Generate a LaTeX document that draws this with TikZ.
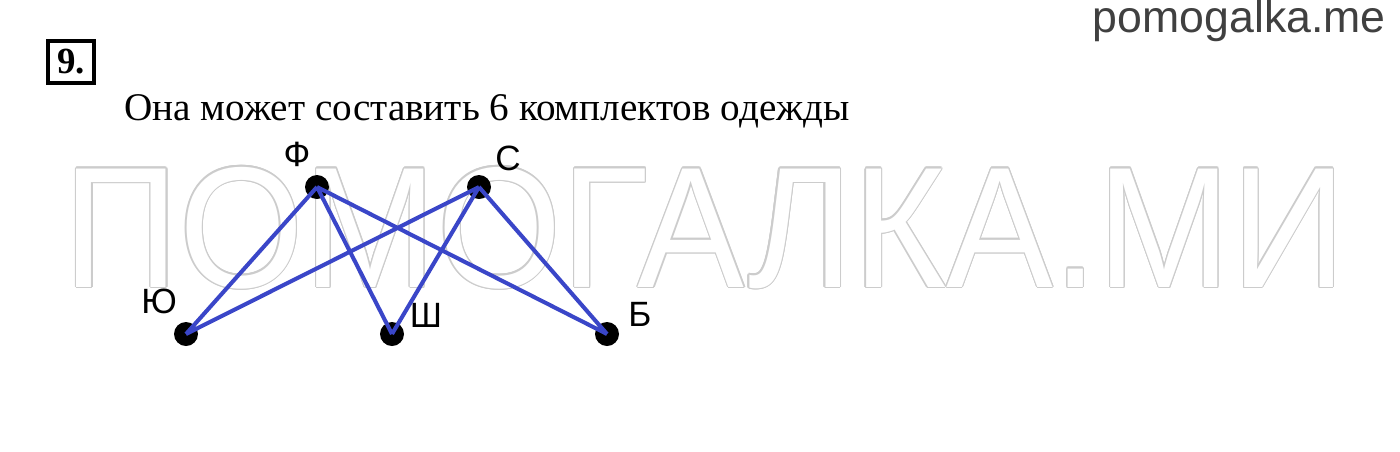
\documentclass[tikz,border=0pt]{standalone}
\usepackage{fontspec}
\setmainfont{Liberation Serif}
\setsansfont{Liberation Sans}
\usepackage{contour}
\contourlength{0.7pt}
\definecolor{lineBlue}{HTML}{3A46C8}
\definecolor{siteGray}{HTML}{404040}
\tikzset{
    dot/.style = {circle, fill = black, minimum size = 0.48cm, inner sep = 0pt},
    letter/.style = {font = \sffamily\fontsize{20}{22}\selectfont, inner sep = 0pt},
    edge/.style = {color = lineBlue, line width = 2.3pt}
}

\begin{document}
\begin{tikzpicture}[x = 0.02cm, y = -0.02cm]
        \useasboundingbox (0, 0) rectangle (1400, 451);

        % watermark behind everything
        \node[anchor = base, inner sep = 0pt] (mark) at (705, 287)
            {\scalebox{0.93}[1]{\fontsize{98}{100}\sffamily\selectfont\color{white}\contour{gray!40}{ПОМОГАЛКА.МИ}}};

        \draw
            (1386, 32) node[anchor = base east, inner sep = 0pt, color = siteGray, font = \sffamily\fontsize{25.4}{28}\selectfont](site){pomogalka.me}
            (71, 62) node[draw, line width = 2.3pt, minimum width = 0.92cm, minimum height = 0.84cm, inner sep = 0pt, font = \bfseries\fontsize{21}{24}\selectfont](num){9.}
            (124, 120) node[anchor = base west, inner sep = 0pt, font = \fontsize{22.3}{25}\selectfont](task){Она может составить 6 комплектов одежды}
        ;

        \draw
            (317, 187) node[dot](dotF){}
            (479, 187) node[dot](dotS){}
            (186, 334) node[dot](dotJu){}
            (392, 334) node[dot](dotSh){}
            (607, 334) node[dot](dotB){}

            (297, 154) node[letter](labF){Ф}
            (508, 158) node[letter](labS){С}
            (159, 301) node[letter](labJu){Ю}
            (426, 315) node[letter](labSh){Ш}
            (640, 314) node[letter](labB){Б}
        ;

        \draw[edge]
            (dotF.center) -- (dotJu.center)
            (dotF.center) -- (dotSh.center)
            (dotF.center) -- (dotB.center)
            (dotS.center) -- (dotJu.center)
            (dotS.center) -- (dotSh.center)
            (dotS.center) -- (dotB.center)
        ;
    \end{tikzpicture}
\end{document}
